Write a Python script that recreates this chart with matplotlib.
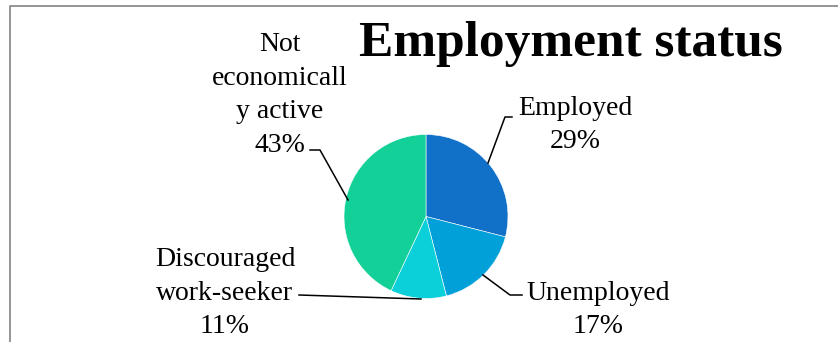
import matplotlib.pyplot as plt
import numpy as np

# Daten
labels = ['Employed', 'Unemployed', 'Discouraged\nwork-seeker', 'Not\neconomicall\ny active']
values = [29, 17, 11, 43]
colors = ['#1170C7', '#02A0D8', '#0BCFD9', '#13CF98']
title = 'Employment status'

W, H = 838, 342
fig = plt.figure(figsize=(W / 100, H / 100), dpi=100)
ax = fig.add_axes([0, 0, 1, 1])
ax.set_xlim(0, W)
ax.set_ylim(0, H)
ax.set_aspect('equal')
ax.axis('off')

serif = ['Liberation Serif', 'DejaVu Serif']

def Y(y):
    # Pixel von oben -> Datenkoordinate
    return H - y

# Rahmen (links und oben sichtbar)
ax.plot([9.5, 9.5, W + 5], [-5, Y(5.5), Y(5.5)], color='#8c8c8c', lw=1.3, clip_on=False)

# Kuchen
cx, cy, r = 426, 216.5, 82
ax.pie(values, colors=colors, startangle=90, counterclock=False,
       center=(cx, Y(cy)), radius=r, frame=True,
       wedgeprops=dict(edgecolor='white', linewidth=0.4))
ax.set_xlim(0, W)
ax.set_ylim(0, H)
ax.axis('off')

# Beschriftungen mit Prozentwerten
label_pos = [(575, 125), (598, 310), (225, 293), (280, 95)]
for lab, val, (lx, ly) in zip(labels, values, label_pos):
    ax.text(lx, Y(ly), f'{lab}\n{val}%', ha='center', va='center',
            fontsize=20, family=serif, linespacing=1.47, color='black')

# Führungslinien
leaders = [
    [(488, 163), (505, 117), (512, 117)],
    [(483, 275), (510, 295), (522, 295)],
    [(421, 299), (299, 295)],
    [(310, 150), (320, 150), (348, 200)],
]
for pts in leaders:
    xs = [p[0] for p in pts]
    ys = [Y(p[1]) for p in pts]
    ax.plot(xs, ys, color='black', lw=1.1)

# Titel
ax.text(571, Y(56), title, ha='center', va='baseline', fontsize=37,
        fontweight='bold', family=serif)

fig.savefig('out.png', dpi=100)
